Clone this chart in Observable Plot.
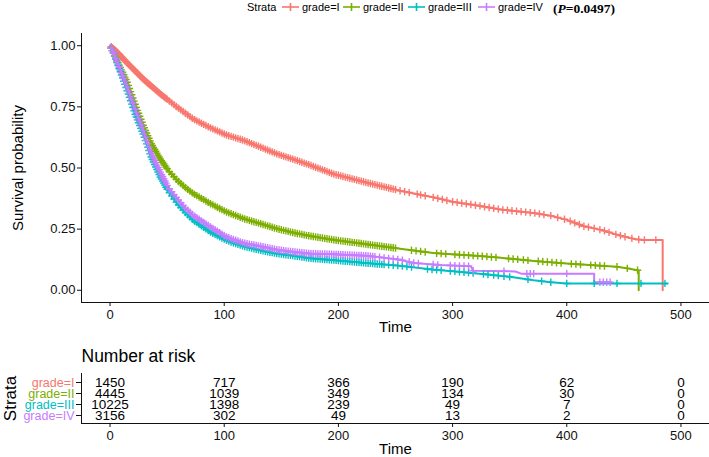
<!DOCTYPE html>
<html>
<head>
<meta charset="utf-8">
<script src="https://cdn.jsdelivr.net/npm/d3@7"></script>
<script src="https://cdn.jsdelivr.net/npm/@observablehq/plot@0.6"></script>
<style>
  html, body { margin: 0; padding: 0; background: #fff; }
  #wrap { width: 709px; height: 457px; position: relative; overflow: hidden; font-family: 'Liberation Sans', Arial, sans-serif; }
  #legend { position: relative; height: 20px; font-size: 11px; color: #000; }
  #legend .item { position: absolute; top: 1px; white-space: nowrap; line-height: 12px; display: flex; align-items: center; }
  #legend svg { display: block; }
  #legend .pval { font: bold 13.5px 'Liberation Serif', 'Times New Roman', serif; }
  svg { display: block; }
</style>
</head>
<body>
<div id="wrap">
  <div id="legend"></div>
  <div id="main"></div>
  <div id="risk"></div>
</div>
<script>
// ---------------- data ----------------
const strata = ["grade=I", "grade=II", "grade=III", "grade=IV"];
const colors = ["#F8766D", "#7CAE00", "#00BFC4", "#C77CFF"];
const pValueText = "0.0497";

const xTicks = [0, 100, 200, 300, 400, 500];
const yTicks = [0, 0.25, 0.5, 0.75, 1];

// survival curves (time, survival probability)
const timeI = [0, 5, 14.5, 29, 44, 59, 73, 88, 102, 117, 132, 146, 161, 175, 196, 225, 254, 283, 300, 324, 342, 371, 386, 400, 415, 430, 444, 459, 466, 484, 484];
const survI = [1, 0.98, 0.932, 0.864, 0.803, 0.748, 0.70, 0.664, 0.635, 0.613, 0.585, 0.558, 0.535, 0.512, 0.475, 0.44, 0.407, 0.38, 0.362, 0.345, 0.33, 0.316, 0.305, 0.288, 0.262, 0.247, 0.227, 0.21, 0.206, 0.206, 0];

const timeII = [0, 5, 14.5, 23, 29, 36, 44, 51, 59, 66, 73, 88, 102, 117, 132, 146, 161, 175, 196, 225, 254, 283, 324, 342, 371, 400, 444, 455, 463, 463];
const survII = [1, 0.95, 0.857, 0.748, 0.675, 0.6, 0.537, 0.49, 0.449, 0.42, 0.395, 0.354, 0.32, 0.293, 0.272, 0.252, 0.235, 0.222, 0.206, 0.188, 0.17, 0.152, 0.14, 0.133, 0.12, 0.109, 0.096, 0.088, 0.081, 0];

const timeIII = [0, 3, 14.5, 22, 29, 36, 44, 51, 59, 66, 73, 88, 102, 117, 132, 146, 161, 175, 196, 225, 254, 284, 300, 328, 350, 371, 386, 400, 488];
const survIII = [1, 0.97, 0.823, 0.72, 0.639, 0.545, 0.463, 0.405, 0.354, 0.318, 0.286, 0.238, 0.204, 0.18, 0.163, 0.15, 0.141, 0.131, 0.123, 0.111, 0.1, 0.084, 0.078, 0.066, 0.055, 0.041, 0.033, 0.028, 0.028];

const timeIV = [0, 3, 14.5, 22, 29, 36, 44, 51, 59, 66, 73, 88, 102, 117, 132, 146, 161, 175, 196, 225, 254, 265, 290, 316, 318, 355, 360, 424, 424, 439];
const survIV = [1, 0.97, 0.837, 0.74, 0.653, 0.56, 0.483, 0.42, 0.374, 0.336, 0.306, 0.259, 0.218, 0.193, 0.18, 0.166, 0.157, 0.15, 0.147, 0.141, 0.125, 0.112, 0.103, 0.098, 0.08, 0.077, 0.068, 0.068, 0.033, 0.033];

// censoring times (dense early, clustered later)
const censorEarly = [1, 2, 3, 4, 5, 6, 7, 8, 9, 10, 11, 12, 13, 14, 15, 16, 17, 18, 19, 20, 21, 22, 23, 24, 25, 26, 27, 28, 29, 30, 31, 32, 33, 34, 35, 36, 37, 38, 39, 40, 41, 42, 43, 44, 45, 46, 47, 48, 49, 50, 52, 54, 56, 58, 60, 62, 64, 66, 68, 70, 72, 74, 76, 78, 80, 82, 84, 86, 88, 90, 92, 94, 96, 98, 100, 102, 104, 106, 108, 110, 112, 114, 116, 118, 120, 122, 124, 126, 128, 130, 132, 134, 136, 138, 140, 142, 144, 146, 148, 150, 152, 154, 156, 158, 160, 162, 164, 166, 168, 170, 172, 174, 176, 178, 180, 182, 184, 186, 188, 190, 192, 194, 196, 198, 200, 202, 204, 206, 208, 210, 212, 214, 216, 218, 220, 222, 224, 226, 228, 230, 232, 234, 236, 238, 240, 242, 244, 246, 248, 250];
const censorLimit = [250, 260, 240, 232];
const censorLateI = [254, 258, 262, 269, 272, 276, 283, 287, 291, 295, 300, 304, 308, 312, 316, 320, 324, 328, 332, 336, 340, 344, 348, 352, 356, 360, 364, 368, 372, 376, 380, 386, 392, 398, 403, 407, 411, 415, 419, 424, 429, 433, 437, 443, 447, 451, 457, 463, 468, 478];
const censorLateII = [264, 268, 272, 276, 286, 290, 294, 302, 306, 310, 314, 318, 322, 326, 330, 334, 338, 349, 353, 357, 362, 366, 375, 379, 383, 387, 391, 395, 404, 408, 412, 421, 425, 429, 433, 444, 453, 462];
const censorLateIII = [244, 248, 252, 256, 260, 264, 278, 282, 286, 290, 298, 302, 306, 310, 314, 318, 327, 331, 336, 340, 345, 350, 366, 378, 386, 400, 424, 444, 465, 486];
const censorLateIV = [236, 240, 244, 248, 252, 256, 262, 266, 270, 283, 287, 298, 302, 306, 310, 314, 318, 345, 365, 368, 371, 400, 429, 432, 435, 438];

// number at risk table
const riskTimes = [0, 100, 200, 300, 400, 500];
const riskI = [1450, 717, 366, 190, 62, 0];
const riskII = [4445, 1039, 349, 134, 30, 0];
const riskIII = [10225, 1398, 239, 49, 7, 0];
const riskIV = [3156, 302, 49, 13, 2, 0];

// ---------------- build tables ----------------
const times = [timeI, timeII, timeIII, timeIV];
const survs = [survI, survII, survIII, survIV];
const lates = [censorLateI, censorLateII, censorLateIII, censorLateIV];
const risks = [riskI, riskII, riskIII, riskIV];

function survAt(ts, ss, t) {
  for (let i = 0; i < ts.length - 1; i++) {
    if (ts[i] <= t && t < ts[i + 1]) {
      const f = (t - ts[i]) / (ts[i + 1] - ts[i]);
      return ss[i] + f * (ss[i + 1] - ss[i]);
    }
  }
  return ss[ss.length - 1];
}

const curveRows = [];
const censorRows = [];
const riskRows = [];
strata.forEach((s, k) => {
  times[k].forEach((t, i) => curveRows.push({strata: s, time: t, surv: survs[k][i]}));
  const cts = censorEarly.filter(t => t <= censorLimit[k]).concat(lates[k]);
  cts.forEach(t => censorRows.push({strata: s, time: t, surv: survAt(times[k], survs[k], t)}));
  riskTimes.forEach((t, i) => riskRows.push({strata: s, time: t, n: risks[k][i]}));
});

// ---------------- legend ----------------
const legend = document.getElementById("legend");
function addItem(left, html) {
  const d = document.createElement("div");
  d.className = "item";
  d.style.left = left + "px";
  d.innerHTML = html;
  legend.appendChild(d);
  return d;
}
function keySvg(c) {
  return `<svg width="17" height="12"><line x1="0" y1="6" x2="17" y2="6" stroke="${c}" stroke-width="1.6"/><line x1="8.5" y1="2" x2="8.5" y2="10" stroke="${c}" stroke-width="1.6"/></svg>`;
}
addItem(247, "Strata");
const keyLeft = [282, 343, 408, 478];
strata.forEach((s, i) => {
  addItem(keyLeft[i], keySvg(colors[i]) + `<span style="margin-left:3px">${s}</span>`);
});
addItem(553, `<span class="pval">(<i>P</i>=${pValueText})</span>`);

// ---------------- main plot ----------------
const font = "'Liberation Sans', Arial, sans-serif";
const main = Plot.plot({
  width: 709,
  height: 315,
  marginTop: 13,
  marginBottom: 33,
  marginLeft: 81,
  marginRight: 0,
  style: {fontFamily: font, fontSize: "13px", color: "#111", background: "white", overflow: "visible"},
  x: {domain: [-25, 525], ticks: xTicks, tickSize: 4, tickPadding: 3, line: true, label: null},
  y: {domain: [-0.05, 1.05], ticks: yTicks, tickFormat: d3.format(".2f"), tickSize: 4, tickPadding: 2, line: true, label: null},
  color: {domain: strata, range: colors},
  marks: [
    Plot.line(curveRows, {x: "time", y: "surv", z: "strata", stroke: "strata", strokeWidth: 2}),
    Plot.dot(censorRows, {x: "time", y: "surv", stroke: "strata", symbol: "plus", r: 2.5, strokeWidth: 1.4}),
    Plot.text(["Time"], {text: d => d, frameAnchor: "bottom", dy: 25, lineAnchor: "middle", textAnchor: "middle", fontSize: 15, fill: "#000"}),
    Plot.text(["Survival probability"], {text: d => d, frameAnchor: "left", dx: -63, rotate: -90, textAnchor: "middle", lineAnchor: "middle", fontSize: 15, fill: "#000"})
  ]
});
document.getElementById("main").appendChild(main);

// ---------------- risk table ----------------
const risk = Plot.plot({
  width: 709,
  height: 122,
  marginTop: 38,
  marginBottom: 34,
  marginLeft: 81,
  marginRight: 0,
  style: {fontFamily: font, fontSize: "13px", color: "#111", background: "white", overflow: "visible"},
  x: {domain: [-25, 525], ticks: xTicks, tickSize: 4, tickPadding: 3, line: true, label: null},
  y: {type: "point", domain: strata, padding: 0.6, tickSize: 5, tickFormat: () => "", line: true, label: null},
  color: {domain: strata, range: colors},
  marks: [
    Plot.text(riskRows, {x: "time", y: "strata", text: d => String(d.n), fontSize: 13.5, fill: "#000"}),
    Plot.text(strata, {y: d => d, text: d => d, fill: d => d, frameAnchor: "left", dx: -7, textAnchor: "end", lineAnchor: "middle", fontSize: 12.5}),
    Plot.text(["Number at risk"], {text: d => d, frameAnchor: "top-left", dy: -17, textAnchor: "start", lineAnchor: "middle", fontSize: 17.5, fill: "#000"}),
    Plot.text(["Strata"], {text: d => d, frameAnchor: "left", dx: -71, rotate: -90, textAnchor: "middle", lineAnchor: "middle", fontSize: 17, fill: "#000"}),
    Plot.text(["Time"], {text: d => d, frameAnchor: "bottom", dy: 26, textAnchor: "middle", lineAnchor: "middle", fontSize: 15, fill: "#000"})
  ]
});
document.getElementById("risk").appendChild(risk);
</script>
</body>
</html>
